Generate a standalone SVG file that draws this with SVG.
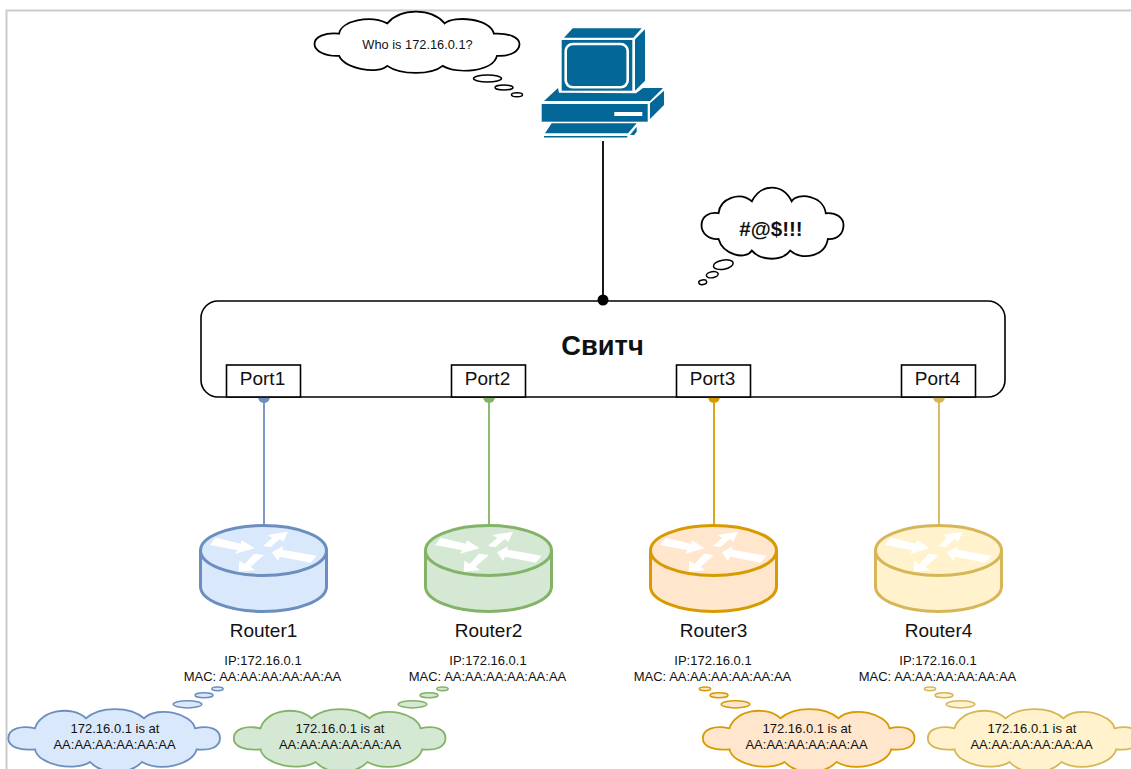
<svg xmlns="http://www.w3.org/2000/svg" width="1131" height="769" viewBox="0 0 1131 769">
<style>
text{font-family:"Liberation Sans",Arial,sans-serif;fill:#111;text-anchor:middle;dominant-baseline:central;stroke:none}
.s{font-size:13px}.p{font-size:19px}
.pc{fill:#036897;stroke:none}
.line{fill:none;stroke-width:1.8}
.blue{fill:#dae8fc;stroke:#6c8ebf}.green{fill:#d5e8d4;stroke:#82b366}.orange{fill:#ffe6cc;stroke:#d79b00}.yellow{fill:#fff2cc;stroke:#d6b656}.white{fill:#fff;stroke:#000}
.cl{stroke-width:1.8}
.cl ellipse{stroke-width:1.5}
.cp{vector-effect:non-scaling-stroke}
.r{stroke-width:3}
.port{fill:#fff;stroke:#000;stroke-width:1.6}
.ar{fill:#fff;stroke:none}
</style>
<defs>
<path id="cloud" class="cp" d="M120 355C50 330 0 410 0 520C0 630 50 720 120 710C150 920 310 1010 355 870C420 1020 570 1020 625 870C700 1010 870 960 890 710C960 720 1000 630 1000 520C1000 420 950 340 875 355C860 110 680 60 635 190C570 -60 420 -60 355 190C270 50 130 150 120 355Z"/>
<path id="cloudc" d="M35 728.3C20 725 8.3 729 8.3 738.3C8.3 747 20 751 35 749.3C38 765 75 772 90 762C102 775 130 775 142 762C160 772 193 765 196.7 749.3C210 751 220 747 220 738.3C220 729 210 725 195 728.3C192 714 158 705 144 718.3C130 706 100 706 86 718.3C72 705 40 710 35 728.3Z"/>
<g id="router">
<path d="M200.5 550.5V586.5A63 25 0 0 0 326.5 586.5V550.5"/>
<ellipse cx="263.5" cy="550.5" rx="63" ry="25"/>
<g transform="translate(190 515) scale(.3333)">
<polygon class="ar" points="77,68 152,86 156,76 194,100 135,116 142,106 60,90"/>
<polygon class="ar" points="219,93 247,68 232,60 294,50 280,80 269,72 241,97"/>
<polygon class="ar" points="380,122 277,104 279,94 246,112 264,138 270,125 362,143"/>
<polygon class="ar" points="192,116 222,120 182,155 195,166 146,170 148,137 164,147"/>
</g>
</g>
</defs>
<rect width="1131" height="769" fill="#fff"/>
<path d="M6.5 769V10.5H1131" fill="none" stroke="#ccc" stroke-width="2"/>

<g id="switch">
<rect x="201" y="301" width="804" height="96" rx="17" fill="#fff" stroke="#000" stroke-width="1.6"/>
<text x="602.5" y="345" style="font-weight:bold;font-size:27.3px">Свитч</text>
</g>

<g id="connectors">
<path class="line" stroke="#000" d="M603 141V300"/><circle cx="603" cy="300" r="5.5" fill="#000"/>
<path class="line" stroke="#6c8ebf" d="M264 397V525"/><circle cx="264" cy="397" r="6" fill="#6c8ebf"/>
<path class="line" stroke="#82b366" d="M489 397V525"/><circle cx="489" cy="397" r="6" fill="#82b366"/>
<path class="line" stroke="#d79b00" d="M714 397V525"/><circle cx="714" cy="397" r="6" fill="#d79b00"/>
<path class="line" stroke="#d6b656" d="M939 397V525"/><circle cx="939" cy="397" r="6" fill="#d6b656"/>
</g>

<g id="port1"><rect class="port" x="226.5" y="365" width="74" height="32"/><text class="p" x="262.5" y="378">Port1</text></g>
<g id="port2"><rect class="port" x="451.5" y="365" width="74" height="32"/><text class="p" x="487.5" y="378">Port2</text></g>
<g id="port3"><rect class="port" x="676.5" y="365" width="74" height="32"/><text class="p" x="712.5" y="378">Port3</text></g>
<g id="port4"><rect class="port" x="901.5" y="365" width="74" height="32"/><text class="p" x="937.5" y="378">Port4</text></g>

<g id="computer">
<polygon class="pc" points="564,37.7 572.7,28.3 641.7,28.3 633.3,37.7"/>
<rect class="pc" x="561.7" y="40" width="70.6" height="50.7"/>
<rect x="565.7" y="44" width="62" height="43.3" rx="7" fill="#036897" stroke="#fff" stroke-width="2.6"/>
<polygon class="pc" points="635,39.3 645,29.3 645,80.7 635,90.7"/>
<polygon class="pc" points="544,101 558,88 559,92.7 636,93.3 643,88 663,88 650,101"/>
<rect class="pc" x="541.7" y="104" width="106" height="17.7"/>
<rect x="614.3" y="112" width="28" height="4" fill="#fff"/>
<polygon class="pc" points="650,103.3 664,90.7 664,105 650,119"/>
<polygon class="pc" points="551.7,123.3 636.7,123.3 628,133.3 545,133.3"/>
<rect class="pc" x="544" y="136" width="83.3" height="1.5"/>
<polygon class="pc" points="636.7,126.7 630,135 634,135 636.7,131.7"/>
</g>

<g id="cloud-who" class="white cl">
<use href="#cloud" transform="translate(314.5 11.5) scale(.205 .0625)"/>
<ellipse cx="487.5" cy="78.5" rx="14" ry="3.5"/><ellipse cx="504" cy="87.5" rx="9" ry="2.5"/><ellipse cx="517" cy="94.7" rx="5.5" ry="2"/>
<text x="417.5" y="44" style="font-size:12.8px">Who is 172.16.0.1?</text>
</g>

<g id="cloud-swear" class="white cl">
<use href="#cloud" transform="translate(701.5 187.5) scale(.142 .0725)"/>
<ellipse cx="723.3" cy="264.7" rx="10" ry="4.6" transform="rotate(-10 723.3 264.7)"/><ellipse cx="712.3" cy="274.7" rx="6" ry="3" transform="rotate(-10 712.3 274.7)"/><ellipse cx="702.7" cy="282.3" rx="4" ry="2.3" transform="rotate(-10 702.7 282.3)"/>
<text x="771" y="228" style="font-weight:bold;font-size:20.5px">#@$!!!</text>
</g>

<g id="router1" class="blue r"><use href="#router"/></g>
<g id="router2" class="green r"><use href="#router" x="225"/></g>
<g id="router3" class="orange r"><use href="#router" x="450"/></g>
<g id="router4" class="yellow r"><use href="#router" x="675"/></g>

<g id="router-labels">
<text class="p" x="263.5" y="630">Router1</text><text class="s" x="263" y="660">IP:172.16.0.1</text><text class="s" x="262.5" y="676">MAC: AA:AA:AA:AA:AA:AA</text>
<text class="p" x="488.5" y="630">Router2</text><text class="s" x="488" y="660">IP:172.16.0.1</text><text class="s" x="487.5" y="676">MAC: AA:AA:AA:AA:AA:AA</text>
<text class="p" x="713.5" y="630">Router3</text><text class="s" x="713" y="660">IP:172.16.0.1</text><text class="s" x="712.5" y="676">MAC: AA:AA:AA:AA:AA:AA</text>
<text class="p" x="938.5" y="630">Router4</text><text class="s" x="938" y="660">IP:172.16.0.1</text><text class="s" x="937.5" y="676">MAC: AA:AA:AA:AA:AA:AA</text>
</g>

<g id="cloud-blue" class="blue cl">
<use href="#cloudc"/>
<ellipse cx="187.5" cy="704.3" rx="14.3" ry="3.6"/><ellipse cx="204" cy="695.3" rx="9" ry="2.5"/><ellipse cx="217.5" cy="688.8" rx="5.7" ry="1.9"/>
<text class="s" x="115" y="728">172.16.0.1 is at</text><text class="s" x="114.5" y="744">AA:AA:AA:AA:AA:AA</text>
</g>
<g id="cloud-green" class="green cl">
<use href="#cloudc" x="225.5"/>
<ellipse cx="412.5" cy="704.3" rx="14.3" ry="3.6"/><ellipse cx="429" cy="695.3" rx="9" ry="2.5"/><ellipse cx="442.5" cy="688.8" rx="5.7" ry="1.9"/>
<text class="s" x="340" y="728">172.16.0.1 is at</text><text class="s" x="340" y="744">AA:AA:AA:AA:AA:AA</text>
</g>
<g id="cloud-orange" class="orange cl">
<use href="#cloudc" x="694.5"/>
<ellipse cx="735.5" cy="704.3" rx="14.3" ry="3.6"/><ellipse cx="719" cy="695.3" rx="9" ry="2.5"/><ellipse cx="705" cy="688.8" rx="5.7" ry="1.9"/>
<text class="s" x="807" y="728">172.16.0.1 is at</text><text class="s" x="806.5" y="744">AA:AA:AA:AA:AA:AA</text>
</g>
<g id="cloud-yellow" class="yellow cl">
<use href="#cloudc" x="919.5"/>
<ellipse cx="960.5" cy="704.3" rx="14.3" ry="3.6"/><ellipse cx="944" cy="695.3" rx="9" ry="2.5"/><ellipse cx="930" cy="688.8" rx="5.7" ry="1.9"/>
<text class="s" x="1032" y="728">172.16.0.1 is at</text><text class="s" x="1031.5" y="744">AA:AA:AA:AA:AA:AA</text>
</g>
</svg>
